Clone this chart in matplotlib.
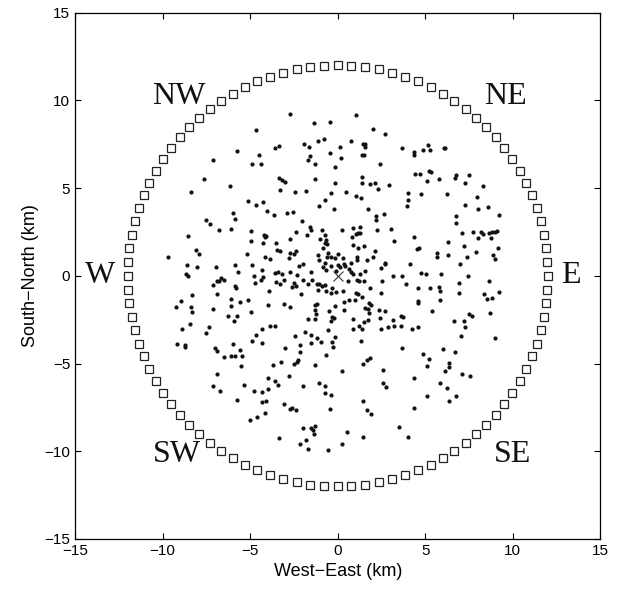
"""Station ring and event epicentres, plan view (West-East vs South-North)."""

import numpy as np
import matplotlib
matplotlib.use("Agg")
import matplotlib.pyplot as plt

# Receiver ring
ring_radius_km = 12.0
n_stations = 96

# Source location at the centre
source_xy = (0.0, 0.0)

# Epicentres (km)
event_x = [
    # north-west block
    -4.68, -5.78, -4.47, -7.13, -4.87, -4.41, -7.61, -6.18, -8.37, -5.10,
    -4.68, -4.24, -4.05, -5.97, -5.89, -7.55,
    # north-centre block
    -2.71, -1.36, -0.45, 1.02, 2.03, 2.68, 3.67, -3.57, -3.34, -1.93,
    -1.65, -1.10, -0.81, 0.12, 0.75, 1.42, 1.53, 1.57, -0.45, -1.59,
    -1.69, 0.18, 1.38, 1.48, -1.31, 2.43, -0.14, -3.34, -3.21, -3.04,
    -1.31, 1.40, -0.14, 1.38, 1.82, 2.12, 2.94, -3.29, -2.45, -1.82,
    -0.41, 0.50, 2.28, 4.03, 1.06, 1.32, -0.70, 4.03, 3.93, -1.08,
    -0.24, 1.72, -3.65, -2.87, -2.56, 2.16, 2.62, -2.03, 2.20,
    # north-east block
    5.13, 4.33, 4.37, 4.85, 5.27, 6.09, 6.14, 4.43, 4.68, 5.23,
    5.34, 5.10, 5.76, 6.77, 6.71, 7.51, 7.27, 8.28, 4.73, 6.22,
    7.97, 7.29, 7.99, 8.60, 6.75, 9.23,
    # west block
    -7.29, -6.81, -6.12, -4.98, -4.22, -4.14, -4.09, -8.54, -4.96, -4.24,
    -9.72, -8.12, -7.93, -5.17, -4.16, -3.86, -8.62, -8.03, -6.98, -5.84,
    -4.92, -4.31, -8.68, -8.56, -5.67, -4.81, -4.28, -4.41, -6.68, -6.47,
    -6.89, -6.81, -7.15, -4.71, -5.86, -5.80, -3.95, -8.33, -6.89, -8.94,
    -6.10, -5.61, -5.15, -9.23, -8.37, -8.30, -7.13, -6.07, -4.94, -4.01,
    -6.24, -5.74, -5.91, -8.45, -7.38, -8.87, -7.53, -4.31, -3.89, -4.66,
    # central block
    -1.61, -1.53, -0.92, 0.22, 0.89, 1.27, 1.02, 1.15, 1.29, 0.79,
    2.26, 3.06, -2.39, -1.78, -2.71, -1.02, -0.70, -0.66, -0.73, -0.62,
    -0.85, -3.55, 0.89, 1.15, 1.51, 3.19, -3.48, -3.27, -2.75, -2.49,
    -2.37, -1.13, -0.56, 0.01, 2.14, -2.77, -0.62, -0.41, -0.16, -1.06,
    0.31, 1.11, 1.09, 1.65, 2.03, 2.68, 2.71, -2.22, -1.97, -0.70,
    -0.41, -0.01, 0.12, 0.35, 0.41, 0.73, -0.85, -3.61, -3.42, -3.17,
    -2.75, -2.35, -1.51, -0.68, -0.12, 0.64, 0.75, 0.85, 1.25, 1.57,
    2.49, 3.17, 3.69, -3.50, -3.32, -3.06, -2.52, -2.62, -2.41, -2.01,
    -1.70, -1.46, -1.21, -1.08, -0.92, -0.75, -1.10, -0.66, -0.35, -0.41,
    -0.09, 0.28, 0.60, 1.08, 1.19, 1.48, 1.86, 2.52, 3.88, -2.09,
    1.02, 1.13, 1.40, 2.45, 0.35, 0.66, 0.96, 1.80, 1.91, 1.57,
    1.72, 1.78, 2.33, 2.71, -1.21, -1.32, -3.08, -2.70, -1.32, -1.25,
    -0.52, -0.18, 0.33, -0.35, -0.20, -0.37, -1.70, -1.29, 0.85, 1.51,
    1.74, 2.43, 3.17, 3.61, 3.74, -3.59, -1.89, -2.45, -1.53, -1.17,
    -0.56, -0.14, 0.89, 1.21, 1.36, 2.45, 2.85, 3.19, 3.59,
    # east block
    6.77, 4.33, 7.08, 7.71, 8.20, 8.28, 8.03, 8.64, 8.83, 8.96,
    9.11, 8.75, 6.31, 4.54, 4.62, 5.65, 5.65, 6.30, 7.21, 7.88,
    7.40, 8.87, 9.00, 9.17, 4.12, 6.96, 4.73, 5.04, 5.90, 7.46,
    8.62, 6.92, 4.60, 5.29, 5.78, 5.82, 6.94, 8.35, 8.52, 8.79,
    9.21, 4.56, 4.58, 5.84, 5.38, 7.48, 7.69, 8.68, 6.66, 7.23,
    4.22, 4.58, 7.27, 7.02, 8.96,
    # south-west block
    -9.17, -8.75, -8.75, -7.02, -6.89, -6.01, -5.61, -4.90, -4.33, -6.52,
    -6.10, -5.86, -5.44, -5.50, -6.92, -7.15, -6.75, -5.36, -4.81, -4.33,
    -4.01, -3.99, -5.76, -4.33, -4.10, -4.14, -4.60, -5.02,
    # south-centre block
    -3.02, -2.14, -1.51, -0.98, -0.35, -0.28, 1.32, 3.67, -2.16, -0.66,
    -3.67, -3.25, -2.47, -2.35, -2.26, -1.29, 0.22, 1.42, 1.65, 1.82,
    2.60, -2.79, -3.59, -3.44, -1.97, -1.06, -0.75, -0.70, -0.39, 2.60,
    2.75, -3.06, -2.71, -2.62, -2.41, -0.45, 1.42, 1.65, 1.88, -2.01,
    -1.51, -1.44, -1.29, -1.34, 0.54, 3.51, 4.03, -3.36, -1.84, -2.18,
    -1.69, -0.58, 0.24, 1.42,
    # south-east block
    5.99, 6.71, 4.85, 5.19, 5.08, 6.37, 6.33, 6.12, 7.10, 7.57,
    4.33, 5.82, 6.24, 5.08, 6.77, 6.37, 4.33,
]
event_y = [
    # north-west block
    8.34, 7.14, 6.90, 6.59, 6.36, 6.38, 5.52, 5.10, 4.78, 4.29,
    4.06, 4.21, 3.68, 3.58, 3.24, 3.16,
    # north-centre block
    9.20, 8.74, 8.78, 9.18, 8.36, 8.10, 7.31, 7.29, 7.39, 7.49,
    7.35, 7.66, 7.81, 7.37, 7.66, 7.54, 7.49, 7.37, 6.99, 6.82,
    6.63, 6.70, 6.88, 6.89, 6.38, 6.38, 6.19, 5.60, 5.47, 5.33,
    5.52, 5.62, 5.28, 5.28, 5.24, 5.31, 5.18, 4.90, 4.76, 4.86,
    4.72, 4.78, 4.95, 4.70, 4.53, 4.44, 4.34, 4.30, 4.00, 4.00,
    3.83, 3.81, 3.47, 3.58, 3.64, 3.39, 3.50, 3.12, 3.16,
    # north-east block
    7.47, 7.07, 6.88, 7.16, 7.18, 7.31, 7.28, 5.79, 5.79, 5.96,
    5.94, 5.41, 5.52, 5.75, 5.60, 5.77, 5.28, 5.12, 4.67, 4.67,
    4.51, 4.02, 3.83, 3.92, 3.41, 3.45,
    # west block
    2.95, 2.61, 2.65, 2.53, 2.32, 2.23, 2.27, 2.30, 1.98, 1.87,
    1.05, 1.49, 1.26, 1.22, 1.09, 0.95, 0.61, 0.48, 0.53, 0.63,
    0.61, 0.36, 0.11, 0.00, 0.23, 0.00, -0.08, -0.25, -0.13, -0.23,
    -0.32, -0.30, -0.50, -0.42, -0.57, -0.69, -0.86, -1.09, -1.05, -1.43,
    -1.31, -1.49, -1.35, -1.77, -1.79, -2.06, -1.90, -1.73, -2.08, -1.68,
    -2.27, -2.27, -2.55, -2.72, -2.91, -3.01, -3.28, -3.05, -2.88, -3.39,
    # central block
    2.80, 2.63, 2.59, 2.63, 2.72, 2.76, 2.38, 2.42, 2.46, 2.21,
    2.61, 2.69, 2.50, 2.31, 2.10, 2.10, 2.32, 2.02, 1.90, 1.79,
    1.60, 1.87, 1.77, 1.60, 1.71, 1.96, 1.47, 1.41, 1.28, 1.26,
    1.41, 1.20, 1.31, 1.26, 1.43, 1.00, 1.07, 1.10, 1.01, 0.88,
    1.03, 1.09, 0.93, 0.93, 1.05, 0.76, 0.67, 0.57, 0.65, 0.76,
    0.59, 0.63, 0.53, 0.69, 0.57, 0.72, 0.53, 0.19, 0.23, 0.08,
    0.23, 0.04, 0.23, 0.36, 0.25, 0.40, 0.21, 0.08, 0.08, 0.25,
    0.42, -0.02, 0.02, -0.34, -0.48, -0.25, -0.40, -0.61, -0.57, -0.21,
    -0.44, -0.21, -0.44, -0.46, -0.57, -0.53, -0.82, -0.84, -0.72, -0.97,
    -0.91, -0.88, -0.30, -0.25, -0.30, -0.30, -0.67, -0.29, -0.44, -1.01,
    -0.95, -1.05, -1.18, -0.99, -1.47, -1.37, -1.39, -1.54, -1.68, -1.83,
    -1.89, -2.11, -1.92, -1.98, -1.58, -1.64, -1.60, -1.77, -1.96, -2.15,
    -1.98, -1.73, -1.92, -2.34, -2.40, -2.57, -2.46, -2.46, -2.48, -2.61,
    -2.53, -2.38, -2.53, -2.28, -2.36, -2.88, -3.20, -3.43, -3.39, -3.56,
    -3.10, -3.49, -3.03, -2.86, -3.03, -3.05, -2.93, -2.88, -2.86,
    # east block
    2.99, 2.21, 2.44, 2.50, 2.48, 2.36, 2.13, 2.42, 2.50, 2.51,
    2.53, 2.17, 1.94, 1.52, 1.58, 1.28, 1.07, 1.20, 1.70, 1.35,
    1.07, 1.20, 0.97, 1.58, 0.69, 0.69, 0.19, 0.13, 0.10, -0.02,
    -0.29, -0.42, -0.70, -0.69, -0.65, -0.84, -0.97, -1.05, -1.30, -1.24,
    -0.91, -1.45, -1.56, -1.37, -2.00, -2.17, -2.27, -2.11, -2.59, -2.57,
    -3.05, -2.91, -2.93, -3.45, -3.54,
    # south-west block
    -3.89, -3.92, -4.06, -4.13, -4.30, -3.89, -4.25, -3.71, -3.83, -4.65,
    -4.59, -4.57, -4.59, -5.12, -5.62, -6.27, -6.57, -6.25, -6.57, -6.63,
    -5.83, -6.44, -7.07, -7.20, -7.14, -7.79, -8.02, -8.19,
    # south-centre block
    -4.13, -3.96, -3.85, -3.75, -3.75, -4.06, -3.70, -4.13, -4.36, -4.53,
    -5.07, -4.93, -5.05, -4.91, -4.78, -5.07, -5.41, -5.05, -4.78, -4.70,
    -5.35, -5.73, -5.98, -6.21, -6.27, -6.13, -6.27, -6.67, -6.78, -6.10,
    -6.34, -7.31, -7.60, -7.56, -7.66, -7.58, -7.14, -7.62, -7.85, -8.67,
    -8.70, -8.80, -8.55, -9.01, -8.88, -8.61, -9.18, -9.22, -9.35, -9.56,
    -9.87, -9.90, -9.56, -9.20,
    # south-east block
    -4.17, -4.36, -4.46, -4.74, -5.16, -4.97, -5.18, -5.41, -5.60, -5.71,
    -5.85, -6.08, -6.40, -6.86, -6.86, -7.12, -7.54,
]

# Compass labels: (text, x, y)
compass_labels = [
    ("NW", -9.1, 10.2), ("NE", 9.6, 10.2),
    ("W", -13.6, 0.0), ("E", 13.3, 0.0),
    ("SW", -9.2, -10.2), ("SE", 10.0, -10.2),
]

ticks = [-15, -10, -5, 0, 5, 10, 15]

plt.rcParams.update({
    "font.family": ["Liberation Sans", "DejaVu Sans"],
    "font.size": 11,
    "xtick.direction": "in",
    "ytick.direction": "in",
    "xtick.top": True,
    "ytick.right": True,
    "xtick.major.size": 4,
    "ytick.major.size": 4,
    "axes.linewidth": 0.9,
})

fig = plt.figure(figsize=(6.26, 5.98), dpi=100)
ax = fig.add_axes([0.120, 0.0987, 0.839, 0.880])

# Station ring
az = np.linspace(0, 2 * np.pi, n_stations, endpoint=False)
ax.plot(ring_radius_km * np.sin(az), ring_radius_km * np.cos(az), ls="none",
        marker="s", ms=5.3, mfc="none", mec="#222222", mew=0.9)

# Epicentres
ax.plot(event_x, event_y, ls="none", marker="o", ms=2.0, color="#111111")

# Source
ax.plot(*source_xy, ls="none", marker="x", ms=7.5, mew=0.8, color="#333333")

for txt, x, y in compass_labels:
    ax.text(x, y, txt, ha="center", va="center", fontsize=23,
            family=["Liberation Serif", "DejaVu Serif"], color="#111111")

ax.set_xlim(-15, 15)
ax.set_ylim(-15, 15)
ax.set_xticks(ticks)
ax.set_yticks(ticks)
ax.set_xlabel("West\u2212East (km)", fontsize=13)
ax.set_ylabel("South\u2212North (km)", fontsize=13)

fig.savefig("out.png", dpi=100)
